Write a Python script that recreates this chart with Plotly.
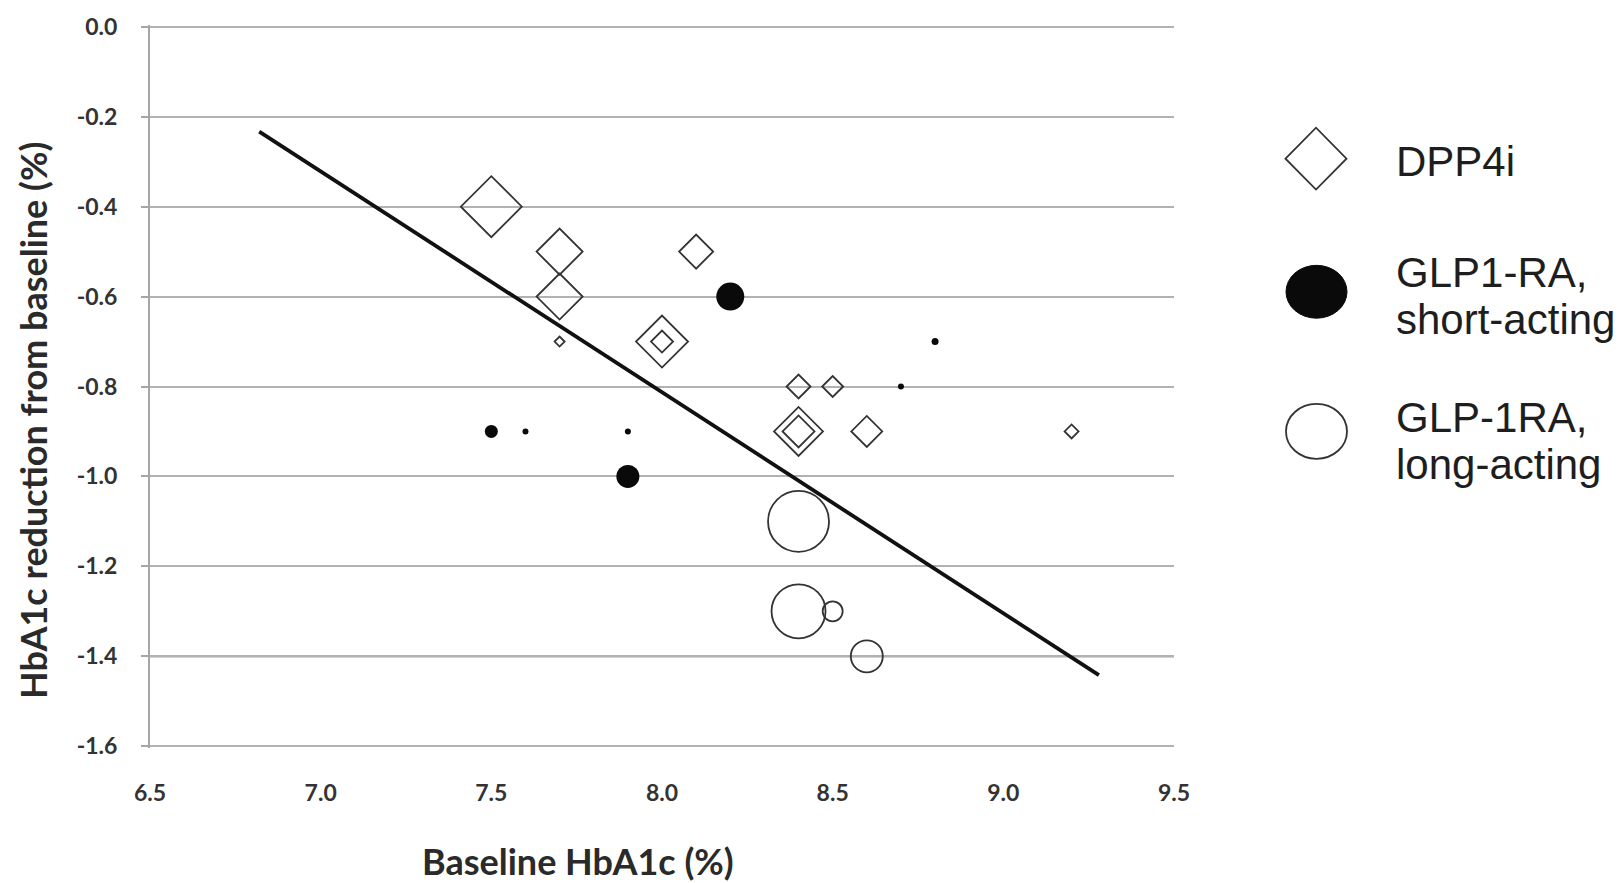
import plotly.graph_objects as go

# ---------------- data ----------------
dpp4_x = [7.5, 7.7, 7.7, 7.7, 8.1, 8.0, 8.0, 8.4, 8.5, 8.4, 8.4, 8.6, 9.2]
dpp4_y = [-0.4, -0.5, -0.6, -0.7, -0.5, -0.7, -0.7, -0.8, -0.8, -0.9, -0.9, -0.9, -0.9]
dpp4_w = [61, 46, 46, 10, 34, 52, 22, 24, 21, 49, 32, 31, 14]   # drawn width (px)

short_x = [8.2, 7.5, 7.6, 7.9, 7.9, 8.7, 8.8]
short_y = [-0.6, -0.9, -0.9, -0.9, -1.0, -0.8, -0.7]
short_w = [28, 13, 6, 6, 23, 6, 7]

long_x = [8.4, 8.4, 8.5, 8.6]
long_y = [-1.1, -1.3, -1.3, -1.4]
long_w = [61, 54, 20, 32]

fit_x = [6.82, 9.28]
fit_y = [-0.233, -1.442]

x_ticks = [6.5, 7.0, 7.5, 8.0, 8.5, 9.0, 9.5]
x_ticktext = ["6.5", "7.0", "7.5", "8.0", "8.5", "9.0", "9.5"]
y_ticks = [0.0, -0.2, -0.4, -0.6, -0.8, -1.0, -1.2, -1.4, -1.6]
y_ticktext = ["0.0", "-0.2", "-0.4", "-0.6", "-0.8", "-1.0", "-1.2", "-1.4", "-1.6"]
dark_line_y = [-1.4]

legend_labels = ["DPP4i", ["GLP1-RA,", "short-acting"], ["GLP-1RA,", "long-acting"]]

# ---------------- layout geometry ----------------
W, H = 1622, 883
PL, PR, PT, PB = 150, 1174, 23, 748


def px_x(px):
    return (px - PL) / (PR - PL)


def px_y(py):
    return (PB - py) / (PB - PT)


fig = go.Figure()

fig.add_trace(go.Scatter(
    x=fit_x, y=fit_y, mode="lines",
    line=dict(color="#111111", width=3.8), hoverinfo="skip"))

fig.add_trace(go.Scatter(
    x=dpp4_x, y=dpp4_y, mode="markers", name="DPP4i",
    marker=dict(symbol="diamond", size=[w / 1.3 for w in dpp4_w], opacity=1,
                color="rgba(0,0,0,0)", line=dict(color="#333333", width=1.8))))

fig.add_trace(go.Scatter(
    x=short_x, y=short_y, mode="markers", name="GLP1-RA, short-acting",
    marker=dict(symbol="circle", size=short_w, color="#0a0a0a", opacity=1,
                line=dict(color="#0a0a0a", width=0))))

fig.add_trace(go.Scatter(
    x=long_x, y=long_y, mode="markers", name="GLP-1RA, long-acting",
    marker=dict(symbol="circle", size=long_w, color="rgba(0,0,0,0)", opacity=1,
                line=dict(color="#333333", width=1.8))))

tickfont = dict(family="Lato", size=23, color="#333333", weight="bold")

fig.update_xaxes(range=[6.5, 9.5], tickvals=x_ticks, ticktext=x_ticktext,
                 showgrid=False, zeroline=False, showline=False, ticks="",
                 tickfont=tickfont, ticklabelstandoff=29)
fig.update_yaxes(range=[-1.604, 0.004], tickvals=y_ticks, ticktext=y_ticktext,
                 showgrid=True, gridcolor="#b2b2b2", gridwidth=2,
                 zeroline=False, showline=True, linecolor="#a6a6a6", linewidth=2,
                 ticks="outside", ticklen=7, tickwidth=2, tickcolor="#a6a6a6",
                 tickfont=tickfont, ticklabelstandoff=19)

shapes = []
for yv in dark_line_y:
    shapes.append(dict(type="line", xref="paper", yref="y", x0=0, x1=1, y0=yv, y1=yv,
                       line=dict(color="#4a4a4a", width=2), layer="below"))

# legend swatches
cx, cy, hw, hh = 1316, 157, 30.5, 31
shapes.append(dict(type="path", xref="paper", yref="paper",
                   path=(f"M {px_x(cx - hw)} {px_y(cy)} L {px_x(cx)} {px_y(cy - hh)} "
                         f"L {px_x(cx + hw)} {px_y(cy)} L {px_x(cx)} {px_y(cy + hh)} Z"),
                   line=dict(color="#333333", width=1.8), fillcolor="rgba(0,0,0,0)"))
shapes.append(dict(type="circle", xref="paper", yref="paper",
                   x0=px_x(1286), x1=px_x(1347), y0=px_y(317), y1=px_y(264),
                   line=dict(color="#0a0a0a", width=1), fillcolor="#0a0a0a"))
shapes.append(dict(type="circle", xref="paper", yref="paper",
                   x0=px_x(1286), x1=px_x(1347), y0=px_y(458), y1=px_y(403),
                   line=dict(color="#333333", width=1.8), fillcolor="rgba(0,0,0,0)"))

legfont = dict(family="Liberation Sans, Arial", size=42, color="#1e1e1e")
annotations = []
leg_rows = [(legend_labels[0], [160]),
            (legend_labels[1], [271, 318]),
            (legend_labels[2], [417, 464])]
for labels, ys in leg_rows:
    if isinstance(labels, str):
        labels = [labels]
    for lab, yy in zip(labels, ys):
        annotations.append(dict(text=lab, xref="paper", yref="paper",
                                x=px_x(1394), y=px_y(yy), xanchor="left", yanchor="middle",
                                showarrow=False, font=legfont))

titlefont = dict(family="Lato", size=36, color="#2a2a2a", weight="bold")
annotations.append(dict(text="Baseline HbA1c (%)", xref="paper", yref="paper",
                        x=px_x(578), y=px_y(861), xanchor="center", yanchor="middle",
                        showarrow=False, font=titlefont))
annotations.append(dict(text="HbA1c reduction from baseline (%)", xref="paper", yref="paper",
                        x=px_x(33), y=px_y(420), xanchor="center", yanchor="middle",
                        textangle=-90, showarrow=False, font=titlefont))

fig.update_layout(width=W, height=H,
                  margin=dict(l=PL, r=W - PR, t=PT, b=H - PB),
                  plot_bgcolor="white", paper_bgcolor="white",
                  showlegend=False, shapes=shapes, annotations=annotations)

fig.write_html("out.html", config={"displayModeBar": False},
               post_script="document.body.style.margin='0';document.body.style.overflow='hidden';")
